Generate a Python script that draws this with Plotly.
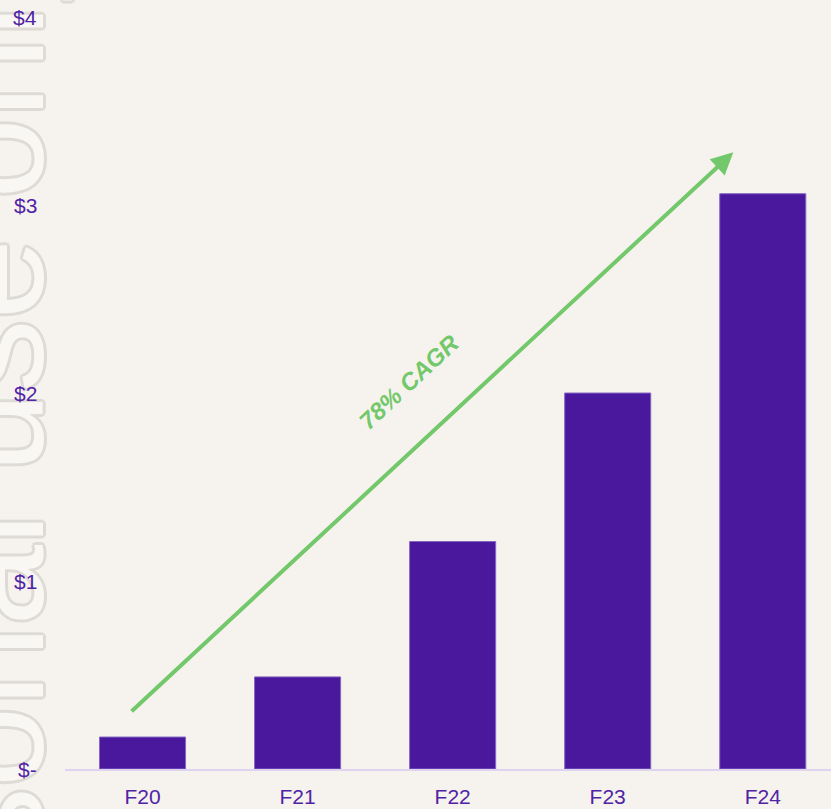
import plotly.graph_objects as go

categories = ["F20", "F21", "F22", "F23", "F24"]
revenue = [0.17, 0.49, 1.21, 2.0, 3.06]
tick_vals = [0, 1, 2, 3, 4]
tick_text = ["$-", "$1", "$2", "$3", "$4"]

cagr_label = "78% CAGR"
arrow_start = (-0.08, 0.30)
arrow_end = (3.81, 3.28)
watermark = "For personal use only"

BG = "#F6F3EE"
PURPLE = "#4A189C"
TEXT_PURPLE = "#5023A6"
GREEN = "#72C86A"
OUTLINE = "#DEDBD6"

fig = go.Figure(
    go.Bar(
        x=categories,
        y=revenue,
        marker=dict(color=PURPLE, line=dict(color="#8466C4", width=1)),
        hoverinfo="skip",
    )
)

# watermark first so the tick labels (annotations too) sit above it
offs = [(3, 0), (-3, 0), (0, 3), (0, -3), (2, 2), (2, -2), (-2, 2), (-2, -2)]
shadow = ", ".join(f"{dx}px {dy}px 0 {OUTLINE}" for dx, dy in offs)
annotations = [
    dict(
        text=watermark, xref="paper", yref="paper",
        x=(76 - 65) / 766, y=(769 - 630) / 752,
        xanchor="right", yanchor="middle", textangle=-90, showarrow=False,
        font=dict(family="Liberation Sans, Arial", size=145, color="#F9F7F3", shadow=shadow),
    )
]

for v, t in zip(tick_vals, tick_text):
    annotations.append(dict(
        text=t, xref="paper", yref="y", x=(39 - 65) / 766, y=v,
        xanchor="right", yanchor="middle", showarrow=False,
        font=dict(family="Liberation Sans, Arial", size=21, color=TEXT_PURPLE),
    ))

annotations.append(dict(
    x=arrow_end[0], y=arrow_end[1], ax=arrow_start[0], ay=arrow_start[1],
    xref="x", yref="y", axref="x", ayref="y", text="",
    showarrow=True, arrowhead=2, arrowsize=1.1, arrowwidth=4, arrowcolor=GREEN,
))
annotations.append(dict(
    text=f"<b><i>{cagr_label}</i></b>", x=1.72, y=2.06, xref="x", yref="y",
    showarrow=False, textangle=-43,
    font=dict(family="Liberation Sans, Arial", size=24, color=GREEN),
))

fig.update_layout(
    width=831, height=809,
    paper_bgcolor=BG, plot_bgcolor=BG,
    margin=dict(l=65, r=0, t=17, b=40),
    bargap=0.445,
    showlegend=False,
    font=dict(family="Liberation Sans, Arial", color=TEXT_PURPLE),
    annotations=annotations,
    xaxis=dict(
        range=[-0.5, 4.44], showline=True, linecolor="#DED3F1", linewidth=2,
        showgrid=False, zeroline=False, ticks="", ticklabelstandoff=8,
        tickfont=dict(size=21, color=TEXT_PURPLE),
    ),
    yaxis=dict(
        range=[0, 4], tickvals=tick_vals, showticklabels=False,
        showgrid=False, zeroline=False, showline=False,
    ),
)

fig.write_html(
    "out.html",
    config={"displayModeBar": False},
    post_script="document.body.style.margin='0';",
)
